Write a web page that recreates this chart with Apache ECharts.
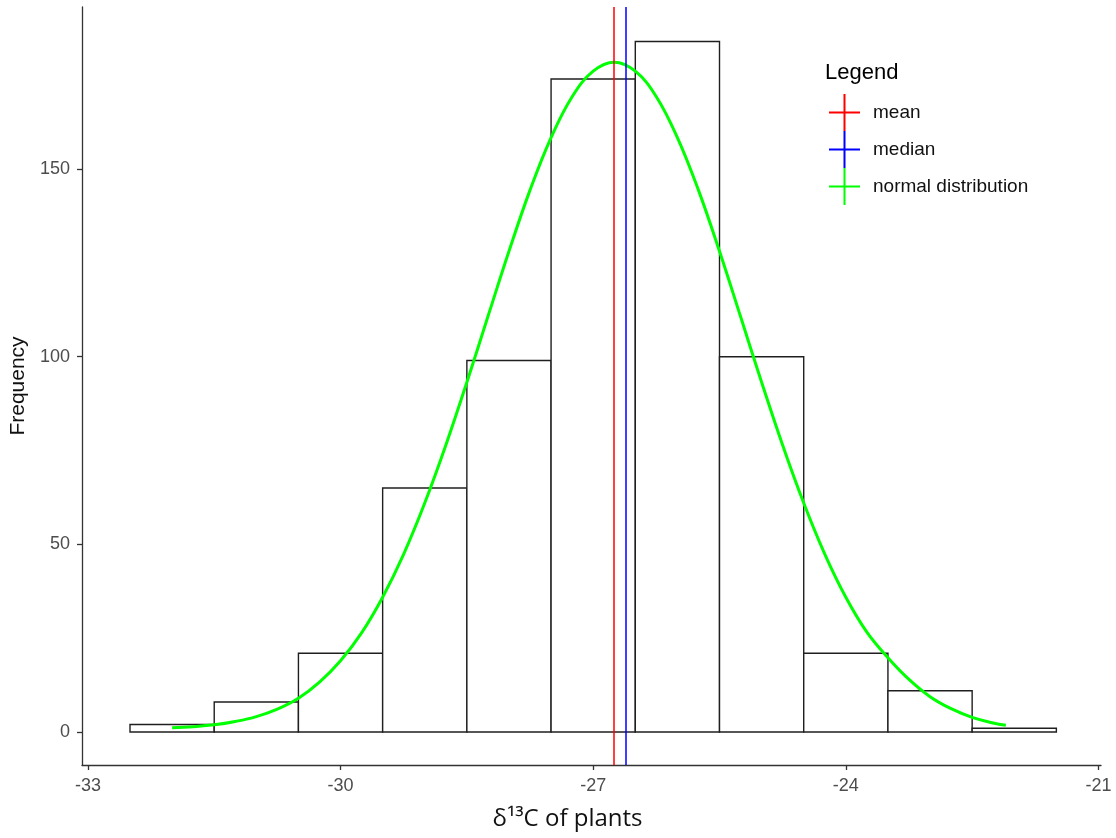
<!DOCTYPE html>
<html>
<head>
<meta charset="utf-8">
<script src="https://cdn.jsdelivr.net/npm/echarts@6/dist/echarts.min.js"></script>
<style>
  html, body { margin: 0; padding: 0; background: #fff; }
  #chart { width: 1116px; height: 838px; }
</style>
</head>
<body>
<div id="chart"></div>
<script>
// ---- data ----
const binCenters = [-32, -31, -30, -29, -28, -27, -26, -25, -24, -23, -22];
const binCounts  = [2, 8, 21, 65, 99, 174, 184, 100, 21, 11, 1];
const binWidth   = 1;
const meanValue   = [-26.75];
const medianValue = [-26.61];
const curveX = [-32, -31.75, -31.5, -31.25, -31, -30.75, -30.5, -30.25, -30, -29.75,
                -29.5, -29.25, -29, -28.75, -28.5, -28.25, -28, -27.75, -27.5, -27.25,
                -27, -26.75, -26.5, -26.25, -26, -25.75, -25.5, -25.25, -25, -24.75,
                -24.5, -24.25, -24, -23.75, -23.5, -23.25, -23, -22.75, -22.5, -22.25, -22.1];
const curveY = [1.1, 1.4, 1.9, 2.8, 4.1, 6.1, 9.0, 13.3, 19.0, 26.4,
                35.9, 47.4, 61.0, 76.4, 93.2, 110.7, 128.1, 144.4, 158.4, 169.3,
                176.1, 178.5, 176.1, 169.3, 158.4, 144.4, 128.1, 110.7, 93.2, 76.4,
                61.0, 47.4, 35.9, 26.6, 19.8, 14.0, 9.4, 6.2, 3.9, 2.4, 1.8];
const xTicks = [-33, -30, -27, -24, -21];
const yTicks = [0, 50, 100, 150];
const seriesNames = ['mean', 'median', 'normal distribution'];

// ---- chart ----
const chart = echarts.init(document.getElementById('chart'), null, { renderer: 'canvas' });
const crossIcon = 'path://M0,17.5h31v2h-31z M14.5,0h2v37h-2z';
const axisFont = 'Liberation Sans, Arial, sans-serif';

const histData = binCenters.map((c, i) => [c, binCounts[i]]);
const curveData = curveX.map((x, i) => [x, curveY[i]]);

const option = {
  animation: false,
  backgroundColor: '#ffffff',
  grid: { left: 82, right: 15, top: 7, bottom: 73, containLabel: false },
  title: {
    text: 'Legend', left: 825, top: 62, padding: 0,
    textStyle: { fontSize: 22, fontWeight: 'normal', color: '#000', fontFamily: axisFont }
  },
  legend: {
    orient: 'vertical', left: 829, top: 94, padding: 0,
    itemWidth: 31, itemHeight: 37, itemGap: 0, selectedMode: false,
    itemStyle: { borderWidth: 0 },
    data: seriesNames.map(n => ({ name: n, icon: crossIcon })),
    textStyle: { fontSize: 19, color: '#111', fontFamily: axisFont, padding: [0, 0, 0, 8] }
  },
  xAxis: {
    type: 'value', min: -33.07, max: -20.97,
    name: '\u03B4\u00B9\u00B3C of plants', nameLocation: 'middle', nameGap: 42,
    nameTextStyle: { fontSize: 24, color: '#111', fontFamily: 'Open Sans, sans-serif', padding: [0, 48, 0, 0] },
    axisLine: { show: true, onZero: false, lineStyle: { color: '#333', width: 1.3 } },
    axisTick: { show: true, length: 5, customValues: xTicks, lineStyle: { color: '#333', width: 1.3 } },
    axisLabel: { customValues: xTicks, margin: 12, fontSize: 18, color: '#4d4d4d', fontFamily: axisFont },
    splitLine: { show: false }
  },
  yAxis: {
    type: 'value', min: -8.8, max: 193.2,
    name: 'Frequency', nameLocation: 'middle', nameGap: 48,
    nameTextStyle: { fontSize: 21, color: '#111', fontFamily: axisFont },
    axisLine: { show: true, onZero: false, lineStyle: { color: '#333', width: 1.3 } },
    axisTick: { show: true, length: 5, customValues: yTicks, lineStyle: { color: '#333', width: 1.3 } },
    axisLabel: { customValues: yTicks, margin: 12, fontSize: 18, color: '#4d4d4d', fontFamily: axisFont },
    splitLine: { show: false }
  },
  series: [
    {
      name: 'histogram', type: 'custom', z: 1,
      data: histData,
      encode: { x: 0, y: 1 },
      renderItem: function (params, api) {
        const c = api.value(0), n = api.value(1);
        const p0 = api.coord([c - binWidth / 2, n]);
        const p1 = api.coord([c + binWidth / 2, 0]);
        return {
          type: 'rect',
          shape: { x: p0[0], y: p0[1], width: p1[0] - p0[0], height: p1[1] - p0[1] },
          style: { fill: '#ffffff', stroke: '#1f1f1f', lineWidth: 1.4 }
        };
      }
    },
    {
      name: 'mean', type: 'line', z: 3, data: [], color: '#ff0000',
      itemStyle: { color: '#ff0000' },
      markLine: {
        silent: true, symbol: ['none', 'none'], label: { show: false },
        lineStyle: { color: '#ff0000', width: 1.5, type: 'solid' },
        data: meanValue.map(v => ({ xAxis: v }))
      }
    },
    {
      name: 'median', type: 'line', z: 3, data: [], color: '#0000ff',
      itemStyle: { color: '#0000ff' },
      markLine: {
        silent: true, symbol: ['none', 'none'], label: { show: false },
        lineStyle: { color: '#0000ff', width: 1.5, type: 'solid' },
        data: medianValue.map(v => ({ xAxis: v }))
      }
    },
    {
      name: 'normal distribution', type: 'line', z: 4, color: '#00ff00',
      data: curveData, smooth: 0.4, showSymbol: false, symbol: 'none',
      itemStyle: { color: '#00ff00' },
      lineStyle: { color: '#00ff00', width: 3 }
    }
  ]
};
chart.setOption(option);
</script>
</body>
</html>
